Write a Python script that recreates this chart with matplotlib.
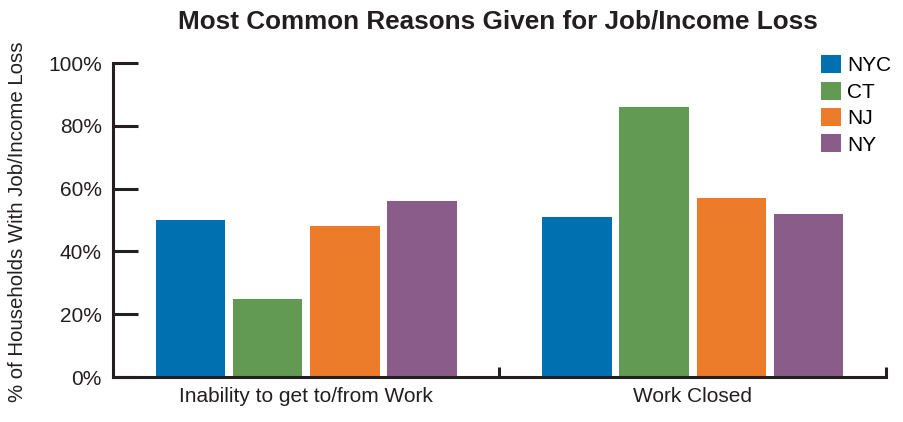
import matplotlib.pyplot as plt
import numpy as np
from matplotlib.ticker import FuncFormatter

plt.rcParams['font.family'] = ['Liberation Sans', 'DejaVu Sans']

categories = ['Inability to get to/from Work', 'Work Closed']
regions = ['NYC', 'CT', 'NJ', 'NY']
values = {
    'NYC': [50, 51],
    'CT': [25, 86],
    'NJ': [48, 57],
    'NY': [56, 52],
}
colors = ['#0070b0', '#629a53', '#ec7c29', '#895c8a']

fig = plt.figure(figsize=(9.04, 4.22), dpi=100)
ax = fig.add_axes([0.125, 0.1066, 0.855, 0.744])

x = np.arange(len(categories))
step = 0.2
width = 0.18
for i, (name, color) in enumerate(zip(regions, colors)):
    ax.bar(x + (i - 1.5) * step, values[name], width, color=color, label=name)

ax.set_xlim(-0.5, 1.5)
ax.set_ylim(0, 100)
ax.set_yticks(range(0, 101, 20))
ax.yaxis.set_major_formatter(FuncFormatter(lambda v, p: f'{int(v)}%'))
ax.tick_params(axis='y', direction='in', length=18, width=2.2, color='#231f20',
               labelsize=15, labelcolor='#231f20', pad=8)

# category labels sit under the bars, ticks mark the category boundaries
ax.set_xticks([0.5, 1.5])
ax.set_xticklabels([])
ax.tick_params(axis='x', direction='in', length=7, width=2.2, color='#231f20')
for xi, cat in zip(x, categories):
    ax.text(xi, -3.2, cat, ha='center', va='top', fontsize=15, color='#231f20')

for side in ['top', 'right']:
    ax.spines[side].set_visible(False)
for side in ['left', 'bottom']:
    ax.spines[side].set_linewidth(2.2)
    ax.spines[side].set_color('#231f20')

ax.set_ylabel('% of Households With Job/Income Loss', fontsize=14.7, color='#231f20')
ax.yaxis.set_label_coords(-0.111, 0.495)
fig.suptitle('Most Common Reasons Given for Job/Income Loss', fontsize=18.8,
             fontweight='bold', color='#231f20', x=0.551, y=0.978)

leg = ax.legend(loc='upper left', bbox_to_anchor=(0.916, 1.025), frameon=False,
                fontsize=15, handlelength=0.95, handleheight=0.95,
                handletextpad=0.3, labelspacing=0.3, borderaxespad=0,
                borderpad=0)

fig.savefig('out.png', dpi=100)
